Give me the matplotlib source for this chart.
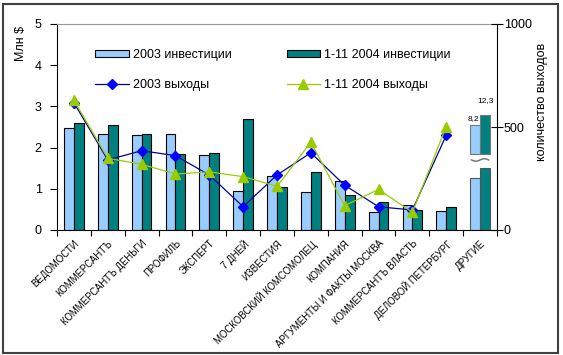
import numpy as np
import matplotlib.pyplot as plt
from matplotlib.patches import Rectangle
from matplotlib.lines import Line2D

plt.rcParams['font.family'] = ['Liberation Sans', 'DejaVu Sans']

categories = ["ВЕДОМОСТИ", "КОММЕРСАНТЪ", "КОММЕРСАНТЪ ДЕНЬГИ", "ПРОФИЛЬ", "ЭКСПЕРТ",
              "7 ДНЕЙ", "ИЗВЕСТИЯ", "МОСКОВСКИЙ КОМСОМОЛЕЦ", "КОМПАНИЯ",
              "АРГУМЕНТЫ И ФАКТЫ МОСКВА", "КОММЕРСАНТЪ ВЛАСТЬ", "ДЕЛОВОЙ ПЕТЕРБУРГ", "ДРУГИЕ"]
# investments, mln $ (last category drawn on a broken scale)
inv_2003 = [2.47, 2.33, 2.30, 2.33, 1.82, 0.95, 1.30, 0.92, 1.19, 0.44, 0.60, 0.45, 1.27]
inv_2004 = [2.60, 2.55, 2.33, 1.85, 1.87, 2.70, 1.05, 1.40, 0.84, 0.68, 0.49, 0.57, 1.50]
# upper pieces of the broken "ДРУГИЕ" bars (start, top) and their real values
others_upper_2003 = (1.84, 2.55)
others_upper_2004 = (1.84, 2.78)
others_real = ["8,2", "12,3"]
# number of publications (right axis), no value for ДРУГИЕ
out_2003 = [618, 340, 385, 361, 267, 113, 267, 375, 217, 113, 97, 460]
out_2004 = [631, 348, 319, 272, 282, 259, 212, 426, 118, 197, 86, 502]

light = "#99CCFF"
dark = "#008080"

fig = plt.figure(figsize=(5.63, 3.55), dpi=100)
ax = fig.add_axes([57 / 563, 1 - 230 / 355, 440 / 563, 206 / 355])
ax2 = ax.twinx()

x = np.arange(len(categories))
w = 0.29
n = len(categories) - 1
ax.bar(x[:n] - w / 2, inv_2003[:n], w, color=light, edgecolor="black", lw=0.8, zorder=2)
ax.bar(x[:n] + w / 2, inv_2004[:n], w, color=dark, edgecolor="black", lw=0.8, zorder=2)
ax.bar(x[n] - w / 2, inv_2003[n], w, color=light, edgecolor="#555555", lw=0.8, zorder=2)
ax.bar(x[n] + w / 2, inv_2004[n], w, color=dark, edgecolor="#555555", lw=0.8, zorder=2)
ax.bar(x[n] - w / 2, others_upper_2003[1] - others_upper_2003[0], w, bottom=others_upper_2003[0],
       color=light, edgecolor="#777777", lw=0.8, zorder=2)
ax.bar(x[n] + w / 2, others_upper_2004[1] - others_upper_2004[0], w, bottom=others_upper_2004[0],
       color=dark, edgecolor="#777777", lw=0.8, zorder=2)
ax.text(x[n] - w / 2 - 0.05, others_upper_2003[1] + 0.06, others_real[0], fontsize=6, ha="center", va="bottom")
ax.text(x[n] + w / 2 + 0.02, others_upper_2004[1] + 0.28, others_real[1], fontsize=6, ha="center", va="bottom")
# break mark
tt = np.linspace(-0.5, 0.5, 40)
ax.plot(x[n] + tt * 0.5, 1.70 + 0.03 * np.sin(tt * 2 * np.pi), color="#777777", lw=1.1, zorder=3)

ax.set_xlim(-0.5, len(categories) - 0.5)
ax.set_ylim(0, 5)
ax.set_yticks(range(6))
ax.set_xticks(x)
ax.set_xticklabels(categories, rotation=45, ha="right", rotation_mode="anchor", fontsize=6.9)
ax.tick_params(axis="x", length=0, pad=6)
ax.set_xticks(np.arange(-0.5, len(categories)), minor=True)
ax.tick_params(axis="x", which="minor", length=4, width=0.8)
ax.tick_params(axis="y", length=5, width=0.8, labelsize=9, pad=6)
ax.set_ylabel("Млн $", fontsize=9)
ax.yaxis.set_label_coords(-0.068, 0.905)
for s in ["left", "bottom"]:
    ax.spines[s].set_color("black")
ax.spines["top"].set_color("#999999")
ax.spines["right"].set_visible(False)

ax2.plot(x[:n], out_2003, color="#0000A0", lw=0.9, marker="D", ms=5,
         mfc="#0000FF", mec="#0000FF", zorder=4)
ax2.plot(x[:n], out_2004, color="#99CC00", lw=0.9, marker="^", ms=7,
         mfc="#99CC00", mec="#99CC00", zorder=4)
ax2.set_ylim(0, 1000)
ax2.set_yticks([0, 500, 1000])
ax2.tick_params(axis="y", direction="inout", length=8, width=0.8, labelsize=9, pad=1)
ax2.set_ylabel("количество выходов", fontsize=9)
ax2.yaxis.set_label_coords(1.088, 0.62)
ax2.spines["right"].set_color("black")
ax2.spines["top"].set_visible(False)
ax2.spines["left"].set_visible(False)
ax2.spines["bottom"].set_visible(False)

handles = [
    Rectangle((0, 0), 1, 1, facecolor=light, edgecolor="black", lw=0.8),
    Line2D([], [], color="#0000A0", lw=0.9, marker="D", ms=5, mfc="#0000FF", mec="#0000FF"),
    Rectangle((0, 0), 1, 1, facecolor=dark, edgecolor="black", lw=0.8),
    Line2D([], [], color="#99CC00", lw=0.9, marker="^", ms=7, mfc="#99CC00", mec="#99CC00"),
]
labels = ["2003 инвестиции", "2003 выходы", "1-11 2004 инвестиции", "1-11 2004 выходы"]
fig.legend(handles, labels, ncol=2, frameon=False, fontsize=9,
           loc="upper left", bbox_to_anchor=(84 / 563, 1 - 38 / 355),
           handlelength=2.7, handleheight=0.5, handletextpad=0.3,
           labelspacing=1.45, columnspacing=4.4)

fig.patches.append(Rectangle((3 / 563, 1 - 353 / 355), 555 / 563, 349 / 355,
                             transform=fig.transFigure, fill=False,
                             edgecolor="#404040", lw=1.5))

fig.savefig("out.png", dpi=100)
